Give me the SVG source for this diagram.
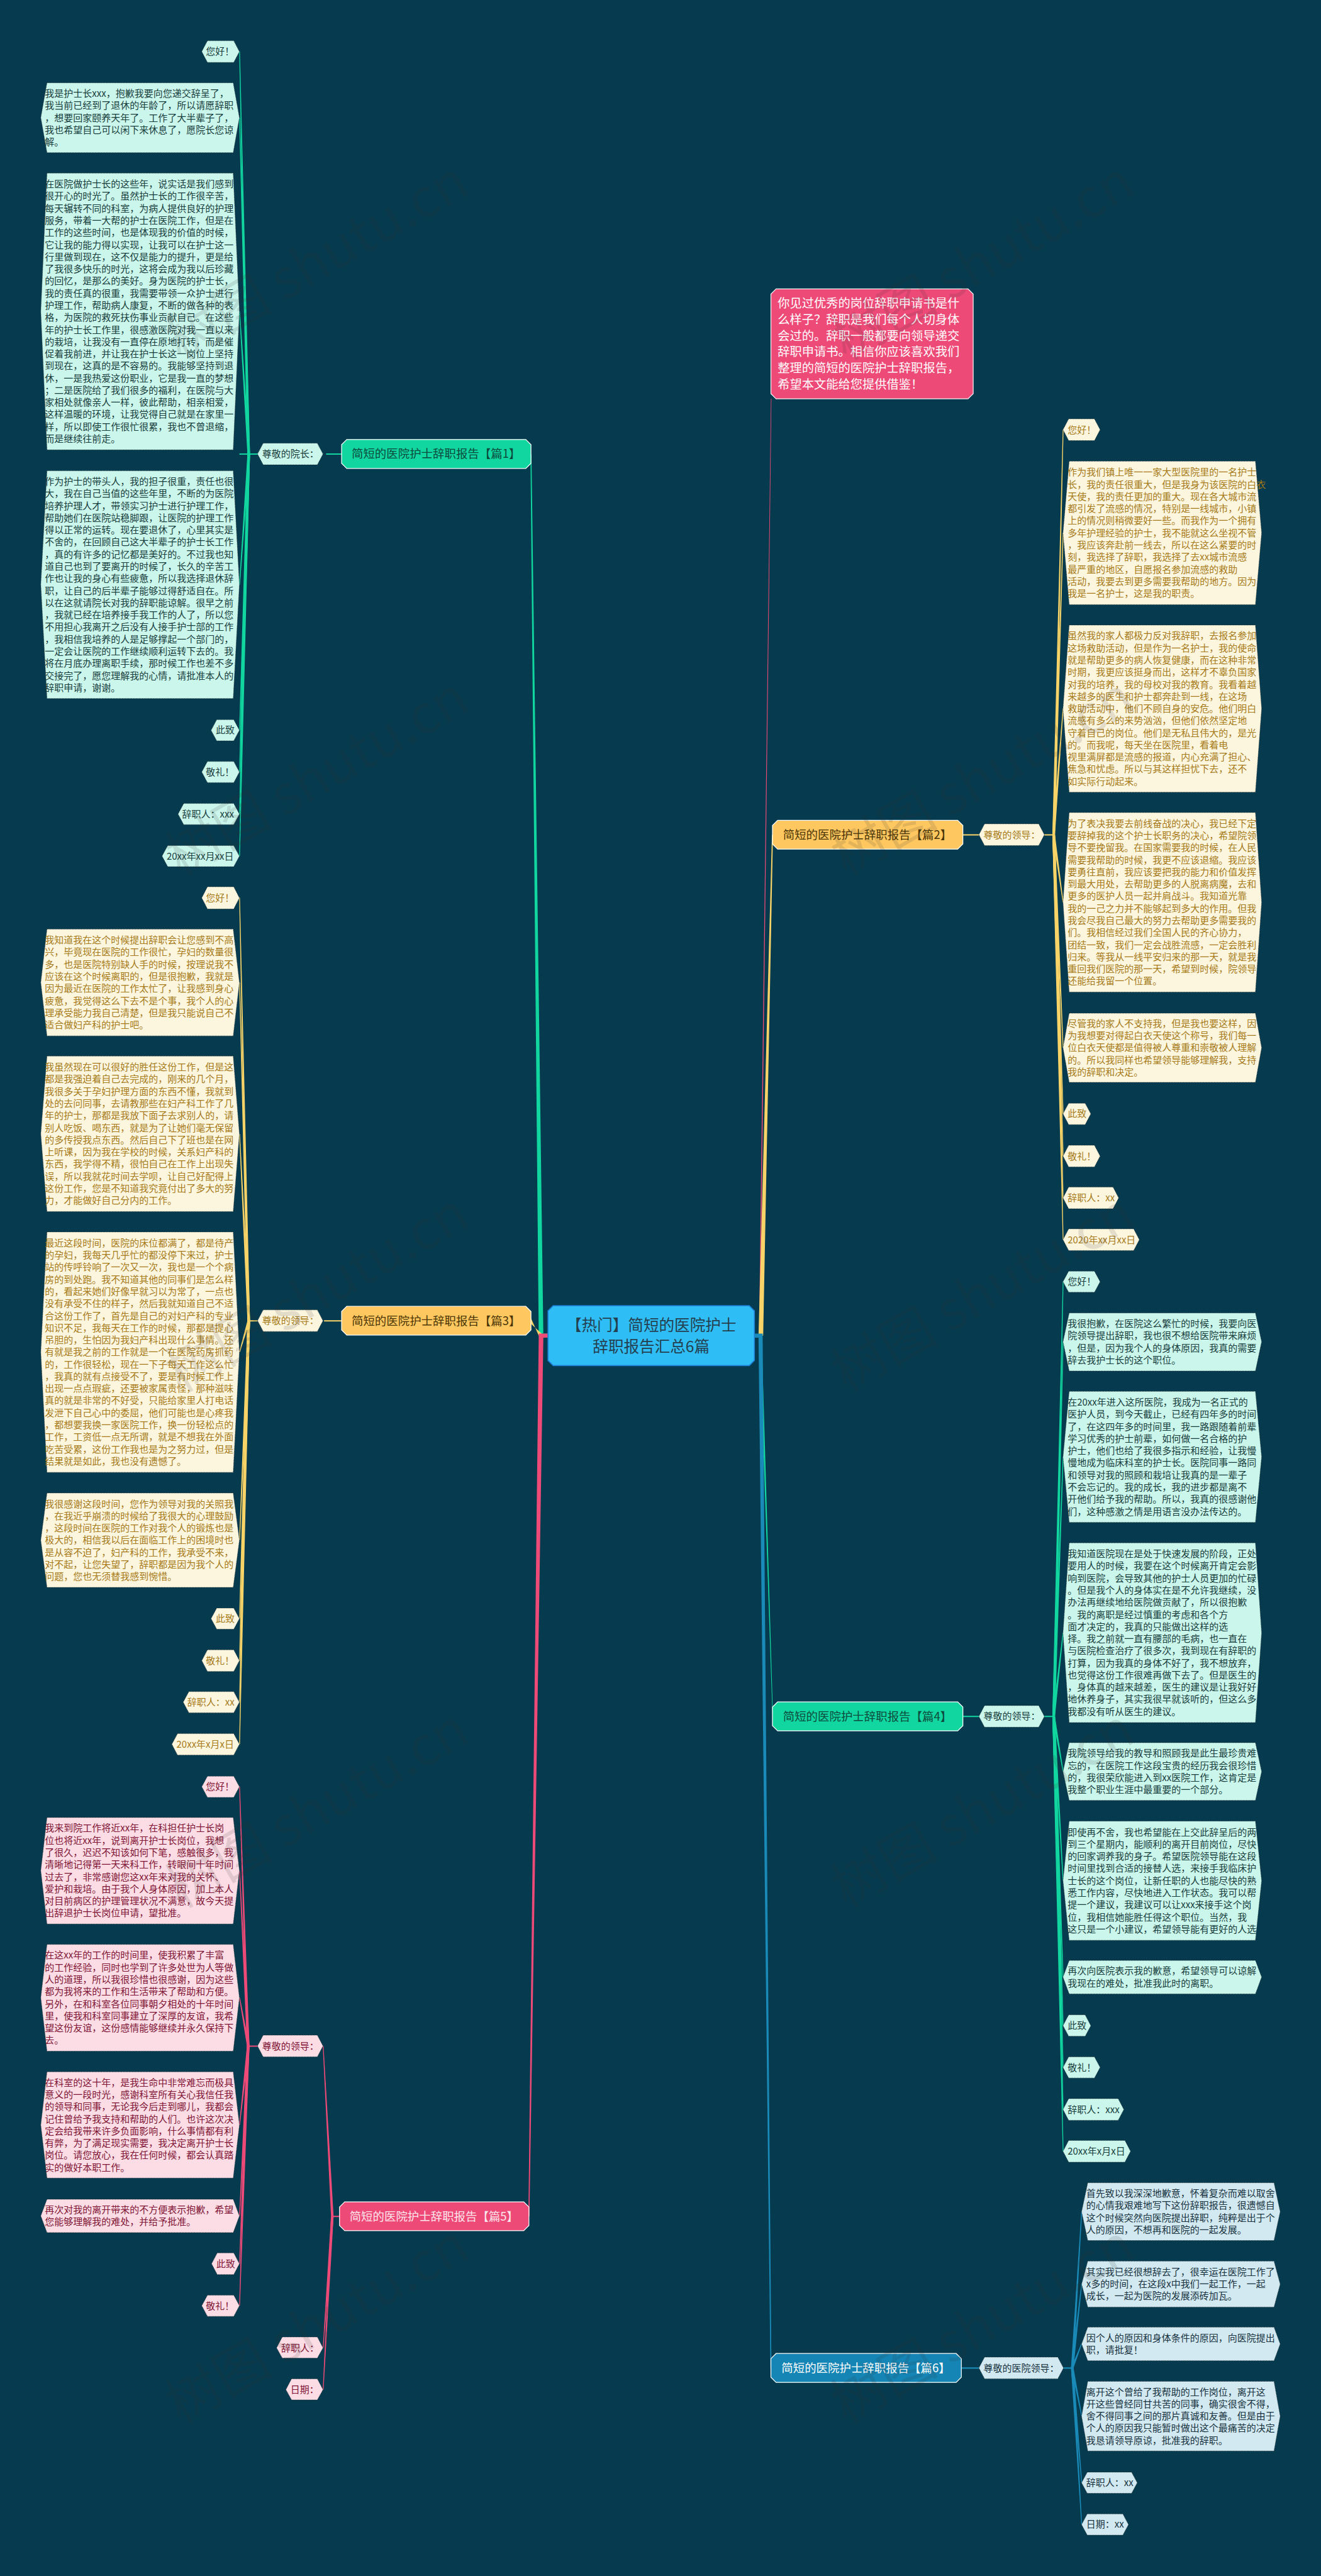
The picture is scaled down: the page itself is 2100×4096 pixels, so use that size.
<svg xmlns="http://www.w3.org/2000/svg" width="2100" height="4096" viewBox="0 0 2100 4096">
<style>
text{font-family:"Noto Sans CJK SC","Liberation Sans",sans-serif;font-size:18.3px}
.n polygon{stroke:#1c2c30;stroke-width:1;stroke-dasharray:1.5 1.5}
.g polygon{fill:#cbf6ec}.g text{fill:#173d3c}
.y polygon{fill:#fdf6df}.y text{fill:#a67a18}
.p polygon{fill:#fcdde6}.p text{fill:#7f1434}
.b polygon{fill:#d2e9f2}.b text{fill:#17323e}
.m polygon{stroke:#fff;stroke-width:1.5}
.m text{font-size:22.5px;text-anchor:middle}
.mg polygon{fill:#12d6a0}.mg text{fill:#0b4a3c}
.my polygon{fill:#ffc75f}.my text{fill:#4a3505}
.mp polygon{fill:#ee4a78}.mp text{fill:#fde6ec}
.mb polygon{fill:#1585b5}.mb text{fill:#fff}
.cg{fill:#12d6a0}.cy{fill:#f8d468}.cp{fill:#ee4a78}.cb{fill:#1a8ab8}
.wm{font-size:104px;fill:#333;opacity:.13}
</style>
<rect width="2100" height="4096" fill="#063a4e"/>
<g transform="scale(0.8203)">
<g id="connectors">
<path class="cp" d="M1471 2589L1473 2589L1495 773L1494 773Z"/>
<path class="cg" d="M1044 2585H1062V2593H1044L1053 2589L1030 881L1028 881Z"/>
<path class="cy" d="M1044 2589L1054 2589L1029 2566L1029 2555Z"/>
<path class="cp" d="M1044 2585H1062V2593H1053L1026 4296L1024 4296L1044 2593Z"/>
<path class="cg" d="M1472 2589L1476 2589L1498 3327L1497 3327Z"/>
<path class="cy" d="M1470 2589L1479 2589L1498 1618L1496 1618Z"/>
<path class="cb" d="M1462 2585H1478V2593L1495 4590L1493 4590L1470 2593H1462Z"/>
<g class="cg">
<path d="M632 879h30v2.5h-30zM464 879h36v2.5h-36z"/>
<path d="M479.500 880L484.500 880L465 100L463.500 100Z"/><path d="M479.500 880L484.500 880L465 228L463.500 228Z"/><path d="M479.500 880L484.500 880L465 604L463.500 604Z"/><path d="M479.500 880L484.500 880L465 1133L463.500 1133Z"/><path d="M479.500 880L484.500 880L465 1415L463.500 1415Z"/><path d="M479.500 880L484.500 880L465 1496L463.500 1496Z"/><path d="M479.500 880L484.500 880L465 1578L463.500 1578Z"/><path d="M479.500 880L484.500 880L465 1659L463.500 1659Z"/>
<path d="M1866 3326h31v2.500h-31zM2024 3326h18v2.500h-18z"/>
<path d="M2039.500 3327L2044.500 3327L2061 2484L2059.500 2484Z"/><path d="M2039.500 3327L2044.500 3327L2061 2601L2059.500 2601Z"/><path d="M2039.500 3327L2044.500 3327L2061 2824L2059.500 2824Z"/><path d="M2039.500 3327L2044.500 3327L2061 3165L2059.500 3165Z"/><path d="M2039.500 3327L2044.500 3327L2061 3434L2059.500 3434Z"/><path d="M2039.500 3327L2044.500 3327L2061 3645L2059.500 3645Z"/><path d="M2039.500 3327L2044.500 3327L2061 3832L2059.500 3832Z"/><path d="M2039.500 3327L2044.500 3327L2061 3926L2059.500 3926Z"/><path d="M2039.500 3327L2044.500 3327L2061 4007L2059.500 4007Z"/><path d="M2039.500 3327L2044.500 3327L2061 4089L2059.500 4089Z"/><path d="M2039.500 3327L2044.500 3327L2061 4170L2059.500 4170Z"/>
</g>
<g class="cy">
<path d="M628 2559h34v2.500h-34zM481 2559h18v2.500h-18z"/>
<path d="M479.500 2560L484.500 2560L465 1740L463.500 1740Z"/><path d="M479.500 2560L484.500 2560L465 1904L463.500 1904Z"/><path d="M479.500 2560L484.500 2560L465 2198L463.500 2198Z"/><path d="M479.500 2560L484.500 2560L465 2621L463.500 2621Z"/><path d="M479.500 2560L484.500 2560L465 2985L463.500 2985Z"/><path d="M479.500 2560L484.500 2560L465 3137L463.500 3137Z"/><path d="M479.500 2560L484.500 2560L465 3219L463.500 3219Z"/><path d="M479.500 2560L484.500 2560L465 3299L463.500 3299Z"/><path d="M479.500 2560L484.500 2560L465 3381L463.500 3381Z"/>
<path d="M1866 1617h31v2.500h-31zM2024 1617h18v2.500h-18z"/>
<path d="M2039.500 1618L2044.500 1618L2061 833L2059.500 833Z"/><path d="M2039.500 1618L2044.500 1618L2061 1033L2059.500 1033Z"/><path d="M2039.500 1618L2044.500 1618L2061 1373L2059.500 1373Z"/><path d="M2039.500 1618L2044.500 1618L2061 1749L2059.500 1749Z"/><path d="M2039.500 1618L2044.500 1618L2061 2031L2059.500 2031Z"/><path d="M2039.500 1618L2044.500 1618L2061 2159L2059.500 2159Z"/><path d="M2039.500 1618L2044.500 1618L2061 2241L2059.500 2241Z"/><path d="M2039.500 1618L2044.500 1618L2061 2322L2059.500 2322Z"/><path d="M2039.500 1618L2044.500 1618L2061 2403L2059.500 2403Z"/>
</g>
<g class="cp">
<path d="M481 3965h18v2.500h-18zM644 4295h16v2.500h-16z"/>
<path d="M478.500 3966L483.500 3966L465 3463L463.500 3463Z"/><path d="M478.500 3966L483.500 3966L465 3626L463.500 3626Z"/><path d="M478.500 3966L483.500 3966L465 3872L463.500 3872Z"/><path d="M478.500 3966L483.500 3966L465 4119L463.500 4119Z"/><path d="M478.500 3966L483.500 3966L465 4295L463.500 4295Z"/><path d="M478.500 3966L483.500 3966L465 4388L463.500 4388Z"/><path d="M478.500 3966L483.500 3966L465 4469L463.500 4469Z"/>
<path d="M641.500 4296L646.500 4296L627 3966L625.500 3966Z"/><path d="M641.500 4296L646.500 4296L627 4551L625.500 4551Z"/><path d="M641.500 4296L646.500 4296L627 4632L625.500 4632Z"/>
</g>
<g class="cb">
<path d="M1863 4589h34v2.500h-34zM2061 4589h17v2.500h-17z"/>
<path d="M2075.500 4590L2080.500 4590L2097 4287L2095.500 4287Z"/><path d="M2075.500 4590L2080.500 4590L2097 4427L2095.500 4427Z"/><path d="M2075.500 4590L2080.500 4590L2097 4543L2095.500 4543Z"/><path d="M2075.500 4590L2080.500 4590L2097 4683L2095.500 4683Z"/><path d="M2075.500 4590L2080.500 4590L2097 4812L2095.500 4812Z"/><path d="M2075.500 4590L2080.500 4590L2097 4893L2095.500 4893Z"/>
</g>
</g>

<g id="center"><polygon points="1072,2531 1452,2531 1462,2541 1462,2637 1452,2647 1072,2647 1062,2637 1062,2541" fill="#2fbdf6" stroke="#1f7fd8" stroke-width="2"/>
<text x="1262" y="2579" text-anchor="middle" style="font-size:30px" fill="#24404f">【热门】简短的医院护士</text><text x="1262" y="2621" text-anchor="middle" style="font-size:30px" fill="#24404f">辞职报告汇总6篇</text></g>

<g id="intro"><polygon points="1504,560 1876,560 1886,570 1886,763 1876,773 1504,773 1494,763 1494,570" fill="#ee4a78" stroke="#f4f4f4" stroke-width="1.500"/>
<text y="596.5" style="font-size:23.5px" fill="#fff"><tspan x="1507">你见过优秀的岗位辞职申请书是什</tspan><tspan x="1507" dy="31.3">么样子？辞职是我们每个人切身体</tspan><tspan x="1507" dy="31.3">会过的。辞职一般都要向领导递交</tspan><tspan x="1507" dy="31.3">辞职申请书。相信你应该喜欢我们</tspan><tspan x="1507" dy="31.3">整理的简短的医院护士辞职报告，</tspan><tspan x="1507" dy="31.3">希望本文能给您提供借鉴！</tspan></text></g>

<g id="main1" class="m mg"><polygon points="672,852 1019,852 1029,862 1029,898 1019,908 672,908 662,898 662,862"/><text x="845" y="888">简短的医院护士辞职报告【篇1】</text></g>
<g id="main2" class="m my"><polygon points="1507,1590 1856,1590 1866,1600 1866,1636 1856,1646 1507,1646 1497,1636 1497,1600"/><text x="1681" y="1626">简短的医院护士辞职报告【篇2】</text></g>
<g id="main3" class="m my"><polygon points="672,2532 1019,2532 1029,2542 1029,2578 1019,2588 672,2588 662,2578 662,2542"/><text x="845" y="2568">简短的医院护士辞职报告【篇3】</text></g>
<g id="main4" class="m mg"><polygon points="1507,3299 1856,3299 1866,3309 1866,3345 1856,3355 1507,3355 1497,3345 1497,3309"/><text x="1681" y="3335">简短的医院护士辞职报告【篇4】</text></g>
<g id="main5" class="m mp"><polygon points="668,4268 1015,4268 1025,4278 1025,4314 1015,4324 668,4324 658,4314 658,4278"/><text x="841" y="4304">简短的医院护士辞职报告【篇5】</text></g>
<g id="main6" class="m mb"><polygon points="1504,4562 1853,4562 1863,4572 1863,4608 1853,4618 1504,4618 1494,4608 1494,4572"/><text x="1678" y="4598">简短的医院护士辞职报告【篇6】</text></g>

<g id="label1" class="n g"><polygon points="510,859 615,859 626,880 615,901 510,901 499,880"/><text x="508" y="886.500">尊敬的院长：</text></g>
<g id="g1" class="n g"><polygon points="402,79 453,79 464,100 453,121 402,121 391,100"/><text x="399" y="106.500">您好！</text></g>
<g id="g2" class="n g"><polygon points="91,160.500 452,160.500 464,228 452,296 91,296 79,228"/><text y="187.750"><tspan x="87">我是护士长xxx，抱歉我要向您递交辞呈了，</tspan><tspan x="87" dy="23.5">我当前已经到了退休的年龄了，所以请愿辞职</tspan><tspan x="87" dy="23.5">，想要回家颐养天年了。工作了大半辈子了，</tspan><tspan x="87" dy="23.5">我也希望自己可以闲下来休息了，愿院长您谅</tspan><tspan x="87" dy="23.5">解。</tspan></text></g>
<g id="g3" class="n g"><polygon points="91,335.500 452,335.500 464,604 452,872 91,872 79,604"/><text y="363.500"><tspan x="87">在医院做护士长的这些年，说实话是我们感到</tspan><tspan x="87" dy="23.5">很开心的时光了。虽然护士长的工作很辛苦，</tspan><tspan x="87" dy="23.5">每天辗转不同的科室，为病人提供良好的护理</tspan><tspan x="87" dy="23.5">服务，带着一大帮的护士在医院工作，但是在</tspan><tspan x="87" dy="23.5">工作的这些时间，也是体现我的价值的时候，</tspan><tspan x="87" dy="23.5">它让我的能力得以实现，让我可以在护士这一</tspan><tspan x="87" dy="23.5">行里做到现在，这不仅是能力的提升，更是给</tspan><tspan x="87" dy="23.5">了我很多快乐的时光，这将会成为我以后珍藏</tspan><tspan x="87" dy="23.5">的回忆，是那么的美好。身为医院的护士长，</tspan><tspan x="87" dy="23.5">我的责任真的很重，我需要带领一众护士进行</tspan><tspan x="87" dy="23.5">护理工作，帮助病人康复，不断的做各种的表</tspan><tspan x="87" dy="23.5">格，为医院的救死扶伤事业贡献自己。在这些</tspan><tspan x="87" dy="23.5">年的护士长工作里，很感激医院对我一直以来</tspan><tspan x="87" dy="23.5">的栽培，让我没有一直停在原地打转，而是催</tspan><tspan x="87" dy="23.5">促着我前进，并让我在护士长这一岗位上坚持</tspan><tspan x="87" dy="23.5">到现在，这真的是不容易的。我能够坚持到退</tspan><tspan x="87" dy="23.5">休，一是我热爱这份职业，它是我一直的梦想</tspan><tspan x="87" dy="23.5">；二是医院给了我们很多的福利，在医院与大</tspan><tspan x="87" dy="23.5">家相处就像亲人一样，彼此帮助，相亲相爱，</tspan><tspan x="87" dy="23.5">这样温暖的环境，让我觉得自己就是在家里一</tspan><tspan x="87" dy="23.5">样，所以即使工作很忙很累，我也不曾退缩，</tspan><tspan x="87" dy="23.5">而是继续往前走。</tspan></text></g>
<g id="g4" class="n g"><polygon points="91,912.600 452,912.600 464,1133 452,1354 91,1354 79,1133"/><text y="940"><tspan x="87">作为护士的带头人，我的担子很重，责任也很</tspan><tspan x="87" dy="23.5">大，我在自己当值的这些年里，不断的为医院</tspan><tspan x="87" dy="23.5">培养护理人才，带领实习护士进行护理工作，</tspan><tspan x="87" dy="23.5">帮助她们在医院站稳脚跟，让医院的护理工作</tspan><tspan x="87" dy="23.5">得以正常的运转。现在要退休了，心里其实是</tspan><tspan x="87" dy="23.5">不舍的，在回顾自己这大半辈子的护士长工作</tspan><tspan x="87" dy="23.5">，真的有许多的记忆都是美好的。不过我也知</tspan><tspan x="87" dy="23.5">道自己也到了要离开的时候了，长久的辛苦工</tspan><tspan x="87" dy="23.5">作也让我的身心有些疲惫，所以我选择退休辞</tspan><tspan x="87" dy="23.5">职，让自己的后半辈子能够过得舒适自在。所</tspan><tspan x="87" dy="23.5">以在这就请院长对我的辞职能谅解。很早之前</tspan><tspan x="87" dy="23.5">，我就已经在培养接手我工作的人了，所以您</tspan><tspan x="87" dy="23.5">不用担心我离开之后没有人接手护士部的工作</tspan><tspan x="87" dy="23.5">，我相信我培养的人是足够撑起一个部门的，</tspan><tspan x="87" dy="23.5">一定会让医院的工作继续顺利运转下去的。我</tspan><tspan x="87" dy="23.5">将在月底办理离职手续，那时候工作也差不多</tspan><tspan x="87" dy="23.5">交接完了，愿您理解我的心情，请批准本人的</tspan><tspan x="87" dy="23.5">辞职申请，谢谢。</tspan></text></g>
<g id="g5" class="n g"><polygon points="420,1395 453,1395 464,1415.500 453,1436 420,1436 409,1415.500"/><text x="418" y="1422">此致</text></g>
<g id="g6" class="n g"><polygon points="402,1476 453,1476 464,1496.500 453,1517 402,1517 391,1496.500"/><text x="399" y="1503">敬礼！</text></g>
<g id="g7" class="n g"><polygon points="356,1557.500 453,1557.500 464,1578 453,1598.500 356,1598.500 345,1578"/><text x="353" y="1584.500">辞职人：xxx</text></g>
<g id="g8" class="n g"><polygon points="325,1639 453,1639 464,1659.500 453,1680 325,1680 314,1659.500"/><text x="323" y="1666">20xx年xx月xx日</text></g>

<g id="label3" class="n y"><polygon points="510,2539 615,2539 626,2560 615,2581 510,2581 499,2560"/><text x="508" y="2566.500">尊敬的领导：</text></g>
<g id="y1" class="n y"><polygon points="402,1719 453,1719 464,1740.500 453,1762 402,1762 391,1740.500"/><text x="399" y="1747">您好！</text></g>
<g id="y2" class="n y"><polygon points="91,1801 452,1801 464,1904.500 452,2008 91,2008 79,1904.500"/><text y="1828.750"><tspan x="87">我知道我在这个时候提出辞职会让您感到不高</tspan><tspan x="87" dy="23.5">兴，毕竟现在医院的工作很忙，孕妇的数量很</tspan><tspan x="87" dy="23.5">多，也是医院特别缺人手的时候，按理说我不</tspan><tspan x="87" dy="23.5">应该在这个时候离职的，但是很抱歉，我就是</tspan><tspan x="87" dy="23.5">因为最近在医院的工作太忙了，让我感到身心</tspan><tspan x="87" dy="23.5">疲惫，我觉得这么下去不是个事，我个人的心</tspan><tspan x="87" dy="23.5">理承受能力我自己清楚，但是我只能说自己不</tspan><tspan x="87" dy="23.5">适合做妇产科的护士吧。</tspan></text></g>
<g id="y3" class="n y"><polygon points="91,2047 452,2047 464,2198 452,2348.500 91,2348.500 79,2198"/><text y="2075"><tspan x="87">我虽然现在可以很好的胜任这份工作，但是这</tspan><tspan x="87" dy="23.5">都是我强迫着自己去完成的，刚来的几个月，</tspan><tspan x="87" dy="23.5">我很多关于孕妇护理方面的东西不懂，我就到</tspan><tspan x="87" dy="23.5">处的去问同事，去请教那些在妇产科工作了几</tspan><tspan x="87" dy="23.5">年的护士，那都是我放下面子去求别人的，请</tspan><tspan x="87" dy="23.5">别人吃饭、喝东西，就是为了让她们毫无保留</tspan><tspan x="87" dy="23.5">的多传授我点东西。然后自己下了班也是在网</tspan><tspan x="87" dy="23.5">上听课，因为我在学校的时候，关系妇产科的</tspan><tspan x="87" dy="23.5">东西，我学得不精，很怕自己在工作上出现失</tspan><tspan x="87" dy="23.5">误，所以我就花时间去学呗，让自己好配得上</tspan><tspan x="87" dy="23.5">这份工作，您是不知道我究竟付出了多大的努</tspan><tspan x="87" dy="23.5">力，才能做好自己分内的工作。</tspan></text></g>
<g id="y4" class="n y"><polygon points="91,2388 452,2388 464,2621 452,2854 91,2854 79,2621"/><text y="2416"><tspan x="87">最近这段时间，医院的床位都满了，都是待产</tspan><tspan x="87" dy="23.5">的孕妇，我每天几乎忙的都没停下来过，护士</tspan><tspan x="87" dy="23.5">站的传呼铃响了一次又一次，我也是一个个病</tspan><tspan x="87" dy="23.5">房的到处跑。我不知道其他的同事们是怎么样</tspan><tspan x="87" dy="23.5">的，看起来她们好像早就习以为常了，一点也</tspan><tspan x="87" dy="23.5">没有承受不住的样子，然后我就知道自己不适</tspan><tspan x="87" dy="23.5">合这份工作了，首先是自己的对妇产科的专业</tspan><tspan x="87" dy="23.5">知识不足，我每天在工作的时候，那都是提心</tspan><tspan x="87" dy="23.5">吊胆的，生怕因为我妇产科出现什么事情。还</tspan><tspan x="87" dy="23.5">有就是我之前的工作就是一个在医院药房抓药</tspan><tspan x="87" dy="23.5">的，工作很轻松，现在一下子每天工作这么忙</tspan><tspan x="87" dy="23.5">，我真的就有点接受不了，要是有时候工作上</tspan><tspan x="87" dy="23.5">出现一点点瑕疵，还要被家属责怪，那种滋味</tspan><tspan x="87" dy="23.5">真的就是非常的不好受，只能给家里人打电话</tspan><tspan x="87" dy="23.5">发泄下自己心中的委屈，他们可能也是心疼我</tspan><tspan x="87" dy="23.5">，都想要我换一家医院工作，换一份轻松点的</tspan><tspan x="87" dy="23.5">工作，工资低一点无所谓，就是不想我在外面</tspan><tspan x="87" dy="23.5">吃苦受累，这份工作我也是为之努力过，但是</tspan><tspan x="87" dy="23.5">结果就是如此，我也没有遗憾了。</tspan></text></g>
<g id="y5" class="n y"><polygon points="91,2894 452,2894 464,2985.500 452,3077 91,3077 79,2985.500"/><text y="2921.500"><tspan x="87">我很感谢这段时间，您作为领导对我的关照我</tspan><tspan x="87" dy="23.5">，在我近乎崩溃的时候给了我很大的心理鼓励</tspan><tspan x="87" dy="23.5">，这段时间在医院的工作对我个人的锻炼也是</tspan><tspan x="87" dy="23.5">极大的，相信我以后在面临工作上的困境时也</tspan><tspan x="87" dy="23.5">是从容不迫了，妇产科的工作，我承受不来，</tspan><tspan x="87" dy="23.5">对不起，让您失望了，辞职都是因为我个人的</tspan><tspan x="87" dy="23.5">问题，您也无须替我感到惋惜。</tspan></text></g>
<g id="y6" class="n y"><polygon points="420,3117 453,3117 464,3137.500 453,3158 420,3158 409,3137.500"/><text x="418" y="3144">此致</text></g>
<g id="y7" class="n y"><polygon points="402,3198 453,3198 464,3219 453,3240 402,3240 391,3219"/><text x="399" y="3225.500">敬礼！</text></g>
<g id="y8" class="n y"><polygon points="366,3279 453,3279 464,3299.500 453,3320 366,3320 355,3299.500"/><text x="363" y="3306">辞职人：xx</text></g>
<g id="y9" class="n y"><polygon points="344,3360.500 453,3360.500 464,3381 453,3402 344,3402 333,3381"/><text x="342" y="3387.500">20xx年x月x日</text></g>

<g id="label5" class="n p"><polygon points="510,3945 615,3945 626,3966 615,3987 510,3987 499,3966"/><text x="508" y="3972.500">尊敬的领导：</text></g>
<g id="label5b" class="n p"><polygon points="547,4530 615,4530 626,4551 615,4571 547,4571 536,4551"/><text x="545" y="4557.500">辞职人：</text></g>
<g id="label5c" class="n p"><polygon points="565,4611 615,4611 626,4632 615,4652 565,4652 554,4632"/><text x="563" y="4638.500">日期：</text></g>
<g id="p1" class="n p"><polygon points="402,3443 453,3443 464,3463.500 453,3484 402,3484 391,3463.500"/><text x="399" y="3470">您好！</text></g>
<g id="p2" class="n p"><polygon points="91,3523 452,3523 464,3626 452,3729.500 91,3729.500 79,3626"/><text y="3550.500"><tspan x="87">我来到院工作将近xx年，在科担任护士长岗</tspan><tspan x="87" dy="23.5">位也将近xx年，说到离开护士长岗位，我想</tspan><tspan x="87" dy="23.5">了很久，迟迟不知该如何下笔，感触很多，我</tspan><tspan x="87" dy="23.5">清晰地记得第一天来科工作，转眼间十年时间</tspan><tspan x="87" dy="23.5">过去了，非常感谢您这xx年来对我的关怀、</tspan><tspan x="87" dy="23.5">爱护和栽培。由于我个人身体原因，加上本人</tspan><tspan x="87" dy="23.5">对目前病区的护理管理状况不满意，故今天提</tspan><tspan x="87" dy="23.5">出辞退护士长岗位申请，望批准。</tspan></text></g>
<g id="p3" class="n p"><polygon points="91,3769 452,3769 464,3872.500 452,3976 91,3976 79,3872.500"/><text y="3796.750"><tspan x="87">在这xx年的工作的时间里，使我积累了丰富</tspan><tspan x="87" dy="23.5">的工作经验，同时也学到了许多处世为人等做</tspan><tspan x="87" dy="23.5">人的道理，所以我很珍惜也很感谢，因为这些</tspan><tspan x="87" dy="23.5">都为我将来的工作和生活带来了帮助和方便。</tspan><tspan x="87" dy="23.5">另外，在和科室各位同事朝夕相处的十年时间</tspan><tspan x="87" dy="23.5">里，使我和科室同事建立了深厚的友谊，我希</tspan><tspan x="87" dy="23.5">望这份友谊，这份感情能够继续并永久保持下</tspan><tspan x="87" dy="23.5">去。</tspan></text></g>
<g id="p4" class="n p"><polygon points="91,4016 452,4016 464,4119 452,4222 91,4222 79,4119"/><text y="4043.250"><tspan x="87">在科室的这十年，是我生命中非常难忘而极具</tspan><tspan x="87" dy="23.5">意义的一段时光，感谢科室所有关心我信任我</tspan><tspan x="87" dy="23.5">的领导和同事，无论我今后走到哪儿，我都会</tspan><tspan x="87" dy="23.5">记住曾给予我支持和帮助的人们。也许这次决</tspan><tspan x="87" dy="23.5">定会给我带来许多负面影响，什么事情都有利</tspan><tspan x="87" dy="23.5">有弊，为了满足现实需要，我决定离开护士长</tspan><tspan x="87" dy="23.5">岗位。请您放心，我在任何时候，都会认真踏</tspan><tspan x="87" dy="23.5">实的做好本职工作。</tspan></text></g>
<g id="p5" class="n p"><polygon points="91,4263 452,4263 464,4295.300 452,4327.600 91,4327.600 79,4295.300"/><text y="4290"><tspan x="87">再次对我的离开带来的不方便表示抱歉，希望</tspan><tspan x="87" dy="23.5">您能够理解我的难处，并给予批准。</tspan></text></g>
<g id="p6" class="n p"><polygon points="421,4367 453,4367 464,4388 453,4409 421,4409 410,4388"/><text x="419" y="4394.500">此致</text></g>
<g id="p7" class="n p"><polygon points="402,4449 453,4449 464,4469.500 453,4490 402,4490 391,4469.500"/><text x="399" y="4476">敬礼！</text></g>

<g id="label2" class="n y"><polygon points="1908,1597 2013,1597 2024,1618 2013,1639 1908,1639 1897,1618"/><text x="1906" y="1624.500">尊敬的领导：</text></g>
<g id="ry1" class="n y"><polygon points="2071,812 2121,812 2132,833 2121,854 2071,854 2060,833"/><text x="2069" y="839.500">您好！</text></g>
<g id="ry2" class="n y"><polygon points="2072,894 2433,894 2445,1033 2433,1172 2072,1172 2060,1033"/><text y="922"><tspan x="2069">作为我们镇上唯一一家大型医院里的一名护士</tspan><tspan x="2069" dy="23.5">长，我的责任很重大，但是我身为该医院的白衣</tspan><tspan x="2069" dy="23.5">天使，我的责任更加的重大。现在各大城市流</tspan><tspan x="2069" dy="23.5">都引发了流感的情况，特别是一线城市，小镇</tspan><tspan x="2069" dy="23.5">上的情况则稍微要好一些。而我作为一个拥有</tspan><tspan x="2069" dy="23.5">多年护理经验的护士，我不能就这么坐视不管</tspan><tspan x="2069" dy="23.5">，我应该奔赴前一线去，所以在这么紧要的时</tspan><tspan x="2069" dy="23.5">刻，我选择了辞职，我选择了去xx城市流感</tspan><tspan x="2069" dy="23.5">最严重的地区，自愿报名参加流感的救助</tspan><tspan x="2069" dy="23.5">活动，我要去到更多需要我帮助的地方。因为</tspan><tspan x="2069" dy="23.5">我是一名护士，这是我的职责。</tspan></text></g>
<g id="ry3" class="n y"><polygon points="2072,1211.600 2433,1211.600 2445,1373.600 2433,1535.600 2072,1535.600 2060,1373.600"/><text y="1239.100"><tspan x="2069">虽然我的家人都极力反对我辞职，去报名参加</tspan><tspan x="2069" dy="23.5">这场救助活动，但是作为一名护士，我的使命</tspan><tspan x="2069" dy="23.5">就是帮助更多的病人恢复健康，而在这种非常</tspan><tspan x="2069" dy="23.5">时期，我更应该挺身而出，这样才不辜负国家</tspan><tspan x="2069" dy="23.5">对我的培养，我的母校对我的教育。我看着越</tspan><tspan x="2069" dy="23.5">来越多的医生和护士都奔赴到一线，在这场</tspan><tspan x="2069" dy="23.5">救助活动中，他们不顾自身的安危。他们明白</tspan><tspan x="2069" dy="23.5">流感有多么的来势汹汹，但他们依然坚定地</tspan><tspan x="2069" dy="23.5">守着自己的岗位。他们是无私且伟大的，是光</tspan><tspan x="2069" dy="23.5">的。而我呢，每天坐在医院里，看着电</tspan><tspan x="2069" dy="23.5">视里满屏都是流感的报道，内心充满了担心、</tspan><tspan x="2069" dy="23.5">焦急和忧虑。所以与其这样担忧下去，还不</tspan><tspan x="2069" dy="23.5">如实际行动起来。</tspan></text></g>
<g id="ry4" class="n y"><polygon points="2072,1575 2433,1575 2445,1749 2433,1923 2072,1923 2060,1749"/><text y="1602.750"><tspan x="2069">为了表决我要去前线奋战的决心，我已经下定</tspan><tspan x="2069" dy="23.5">要辞掉我的这个护士长职务的决心，希望院领</tspan><tspan x="2069" dy="23.5">导不要挽留我。在国家需要我的时候，在人民</tspan><tspan x="2069" dy="23.5">需要我帮助的时候，我更不应该退缩。我应该</tspan><tspan x="2069" dy="23.5">要勇往直前，我应该要把我的能力和价值发挥</tspan><tspan x="2069" dy="23.5">到最大用处，去帮助更多的人脱离病魔，去和</tspan><tspan x="2069" dy="23.5">更多的医护人员一起并肩战斗。我知道光靠</tspan><tspan x="2069" dy="23.5">我的一己之力并不能够起到多大的作用。但我</tspan><tspan x="2069" dy="23.5">我会尽我自己最大的努力去帮助更多需要我的</tspan><tspan x="2069" dy="23.5">们。我相信经过我们全国人民的齐心协力，</tspan><tspan x="2069" dy="23.5">团结一致，我们一定会战胜流感，一定会胜利</tspan><tspan x="2069" dy="23.5">归来。等我从一线平安归来的那一天，就是我</tspan><tspan x="2069" dy="23.5">重回我们医院的那一天，希望到时候，院领导</tspan><tspan x="2069" dy="23.5">还能给我留一个位置。</tspan></text></g>
<g id="ry5" class="n y"><polygon points="2072,1964 2433,1964 2445,2031 2433,2098 2072,2098 2060,2031"/><text y="1990.500"><tspan x="2069">尽管我的家人不支持我，但是我也要这样，因</tspan><tspan x="2069" dy="23.5">为我想要对得起白衣天使这个称号，我们每一</tspan><tspan x="2069" dy="23.5">位白衣天使都是值得被人尊重和崇敬被人理解</tspan><tspan x="2069" dy="23.5">的。所以我同样也希望领导能够理解我，支持</tspan><tspan x="2069" dy="23.5">我的辞职和决定。</tspan></text></g>
<g id="ry6" class="n y"><polygon points="2071,2138.500 2103,2138.500 2114,2159 2103,2180 2071,2180 2060,2159"/><text x="2069" y="2165.500">此致</text></g>
<g id="ry7" class="n y"><polygon points="2071,2220 2121,2220 2132,2241 2121,2262 2071,2262 2060,2241"/><text x="2069" y="2247.500">敬礼！</text></g>
<g id="ry8" class="n y"><polygon points="2071,2301 2157,2301 2168,2322 2157,2343 2071,2343 2060,2322"/><text x="2069" y="2328.500">辞职人：xx</text></g>
<g id="ry9" class="n y"><polygon points="2071,2382 2197,2382 2208,2403 2197,2424 2071,2424 2060,2403"/><text x="2069" y="2409.500">2020年xx月xx日</text></g>

<g id="label4" class="n g"><polygon points="1908,3306 2013,3306 2024,3327 2013,3348 1908,3348 1897,3327"/><text x="1906" y="3333.500">尊敬的领导：</text></g>
<g id="rg1" class="n g"><polygon points="2071,2464 2121,2464 2132,2484.500 2121,2505 2071,2505 2060,2484.500"/><text x="2069" y="2491">您好！</text></g>
<g id="rg2" class="n g"><polygon points="2072,2545 2433,2545 2445,2601 2433,2657.500 2072,2657.500 2060,2601"/><text y="2572.500"><tspan x="2069">我很抱歉，在医院这么繁忙的时候，我要向医</tspan><tspan x="2069" dy="23.5">院领导提出辞职，我也很不想给医院带来麻烦</tspan><tspan x="2069" dy="23.5">，但是，因为我个人的身体原因，我真的需要</tspan><tspan x="2069" dy="23.5">辞去我护士长的这个职位。</tspan></text></g>
<g id="rg3" class="n g"><polygon points="2072,2697 2433,2697 2445,2824 2433,2951 2072,2951 2060,2824"/><text y="2724.750"><tspan x="2069">在20xx年进入这所医院，我成为一名正式的</tspan><tspan x="2069" dy="23.5">医护人员，到今天截止，已经有四年多的时间</tspan><tspan x="2069" dy="23.5">了，在这四年多的时间里，我一路跟随着前辈</tspan><tspan x="2069" dy="23.5">学习优秀的护士前辈，如何做一名合格的护</tspan><tspan x="2069" dy="23.5">护士，他们也给了我很多指示和经验，让我慢</tspan><tspan x="2069" dy="23.5">慢地成为临床科室的护士长。医院同事一路同</tspan><tspan x="2069" dy="23.5">和领导对我的照顾和栽培让我真的是一辈子</tspan><tspan x="2069" dy="23.5">不会忘记的。我的成长，我的进步都是离不</tspan><tspan x="2069" dy="23.5">开他们给予我的帮助。所以，我真的很感谢他</tspan><tspan x="2069" dy="23.5">们，这种感激之情是用语言没办法传达的。</tspan></text></g>
<g id="rg4" class="n g"><polygon points="2072,2990.600 2433,2990.600 2445,3165 2433,3339 2072,3339 2060,3165"/><text y="3018.550"><tspan x="2069">我知道医院现在是处于快速发展的阶段，正处</tspan><tspan x="2069" dy="23.5">要用人的时候，我要在这个时候离开肯定会影</tspan><tspan x="2069" dy="23.5">响到医院，会导致其他的护士人员更加的忙碌</tspan><tspan x="2069" dy="23.5">。但是我个人的身体实在是不允许我继续，没</tspan><tspan x="2069" dy="23.5">办法再继续地给医院做贡献了，所以很抱歉</tspan><tspan x="2069" dy="23.5">。我的离职是经过慎重的考虑和各个方</tspan><tspan x="2069" dy="23.5">面才决定的，我真的只能做出这样的选</tspan><tspan x="2069" dy="23.5">择。我之前就一直有腰部的毛病，也一直在</tspan><tspan x="2069" dy="23.5">与医院检查治疗了很多次，我到现在有辞职的</tspan><tspan x="2069" dy="23.5">打算，因为我真的身体不好了，我不想放弃，</tspan><tspan x="2069" dy="23.5">也觉得这份工作很难再做下去了。但是医生的</tspan><tspan x="2069" dy="23.5">，身体真的越来越差，医生的建议是让我好好</tspan><tspan x="2069" dy="23.5">地休养身子，其实我很早就该听的，但这么多</tspan><tspan x="2069" dy="23.5">我都没有听从医生的建议。</tspan></text></g>
<g id="rg5" class="n g"><polygon points="2072,3378 2433,3378 2445,3434 2433,3490 2072,3490 2060,3434"/><text y="3405.250"><tspan x="2069">我院领导给我的教导和照顾我是此生最珍贵难</tspan><tspan x="2069" dy="23.5">忘的，在医院工作这段宝贵的经历我会很珍惜</tspan><tspan x="2069" dy="23.5">的，我很荣欣能进入到xx医院工作，这肯定是</tspan><tspan x="2069" dy="23.5">我整个职业生涯中最重要的一个部分。</tspan></text></g>
<g id="rg6" class="n g"><polygon points="2072,3530 2433,3530 2445,3645.500 2433,3761 2072,3761 2060,3645.500"/><text y="3558"><tspan x="2069">即使再不舍，我也希望能在上交此辞呈后的两</tspan><tspan x="2069" dy="23.5">到三个星期内，能顺利的离开目前岗位，尽快</tspan><tspan x="2069" dy="23.5">的回家调养我的身子。希望医院领导能在这段</tspan><tspan x="2069" dy="23.5">时间里找到合适的接替人选，来接手我临床护</tspan><tspan x="2069" dy="23.5">士长的这个岗位，让新任职的人也能尽快的熟</tspan><tspan x="2069" dy="23.5">悉工作内容，尽快地进入工作状态。我可以帮</tspan><tspan x="2069" dy="23.5">提一个建议，我建议可以让xxx来接手这个岗</tspan><tspan x="2069" dy="23.5">位，我相信她能胜任得这个职位。当然，我</tspan><tspan x="2069" dy="23.5">这只是一个小建议，希望领导能有更好的人选</tspan></text></g>
<g id="rg7" class="n g"><polygon points="2072,3800 2433,3800 2445,3832.500 2433,3865 2072,3865 2060,3832.500"/><text y="3827.250"><tspan x="2069">再次向医院表示我的歉意，希望领导可以谅解</tspan><tspan x="2069" dy="23.5">我现在的难处，批准我此时的离职。</tspan></text></g>
<g id="rg8" class="n g"><polygon points="2071,3905.500 2103,3905.500 2114,3926.500 2103,3947 2071,3947 2060,3926.500"/><text x="2069" y="3933">此致</text></g>
<g id="rg9" class="n g"><polygon points="2071,3987 2121,3987 2132,4007.500 2121,4028 2071,4028 2060,4007.500"/><text x="2069" y="4014">敬礼！</text></g>
<g id="rg10" class="n g"><polygon points="2071,4068 2167,4068 2178,4089 2167,4110 2071,4110 2060,4089"/><text x="2069" y="4095.500">辞职人：xxx</text></g>
<g id="rg11" class="n g"><polygon points="2071,4149 2180,4149 2191,4170 2180,4191 2071,4191 2060,4170"/><text x="2069" y="4176.500">20xx年x月x日</text></g>

<g id="label6" class="n b"><polygon points="1908,4569 2050,4569 2061,4590 2050,4611 1908,4611 1897,4590"/><text x="1906" y="4596.500">尊敬的医院领导：</text></g>
<g id="b1" class="n b"><polygon points="2108,4231 2469,4231 2481,4287 2469,4343 2108,4343 2096,4287"/><text y="4258.250"><tspan x="2105">首先致以我深深地歉意，怀着复杂而难以取舍</tspan><tspan x="2105" dy="23.5">的心情我艰难地写下这份辞职报告，很遗憾自</tspan><tspan x="2105" dy="23.5">这个时候突然向医院提出辞职，纯粹是出于个</tspan><tspan x="2105" dy="23.5">人的原因，不想再和医院的一起发展。</tspan></text></g>
<g id="b2" class="n b"><polygon points="2108,4383 2469,4383 2481,4427.500 2469,4472 2108,4472 2096,4427.500"/><text y="4410.500"><tspan x="2105">其实我已经很想辞去了，很幸运在医院工作了</tspan><tspan x="2105" dy="23.5">x多的时间，在这段x中我们一起工作，一起</tspan><tspan x="2105" dy="23.5">成长，一起为医院的发展添砖加瓦。</tspan></text></g>
<g id="b3" class="n b"><polygon points="2108,4511 2469,4511 2481,4543.500 2469,4576 2108,4576 2096,4543.500"/><text y="4538.250"><tspan x="2105">因个人的原因和身体条件的原因，向医院提出</tspan><tspan x="2105" dy="23.5">职，请批复！</tspan></text></g>
<g id="b4" class="n b"><polygon points="2108,4616 2469,4616 2481,4683.500 2469,4751 2108,4751 2096,4683.500"/><text y="4643"><tspan x="2105">离开这个曾给了我帮助的工作岗位，离开这</tspan><tspan x="2105" dy="23.5">开这些曾经同甘共苦的同事，确实很舍不得，</tspan><tspan x="2105" dy="23.5">舍不得同事之间的那片真诚和友善。但是由于</tspan><tspan x="2105" dy="23.5">个人的原因我只能暂时做出这个最痛苦的决定</tspan><tspan x="2105" dy="23.5">我恳请领导原谅，批准我的辞职。</tspan></text></g>
<g id="b5" class="n b"><polygon points="2107,4792 2193,4792 2204,4812.500 2193,4833 2107,4833 2096,4812.500"/><text x="2105" y="4819">辞职人：xx</text></g>
<g id="b6" class="n b"><polygon points="2107,4873 2176,4873 2187,4893.500 2176,4914 2107,4914 2096,4893.500"/><text x="2105" y="4900">日期：xx</text></g>

<g id="watermark">
<text class="wm" x="350" y="700" transform="rotate(-30 350 700)">树图 shutu.cn</text>
<text class="wm" x="350" y="1700" transform="rotate(-30 350 1700)">树图 shutu.cn</text>
<text class="wm" x="350" y="2700" transform="rotate(-30 350 2700)">树图 shutu.cn</text>
<text class="wm" x="350" y="3700" transform="rotate(-30 350 3700)">树图 shutu.cn</text>
<text class="wm" x="350" y="4700" transform="rotate(-30 350 4700)">树图 shutu.cn</text>
<text class="wm" x="1640" y="700" transform="rotate(-30 1640 700)">树图 shutu.cn</text>
<text class="wm" x="1640" y="1700" transform="rotate(-30 1640 1700)">树图 shutu.cn</text>
<text class="wm" x="1640" y="2700" transform="rotate(-30 1640 2700)">树图 shutu.cn</text>
<text class="wm" x="1640" y="3700" transform="rotate(-30 1640 3700)">树图 shutu.cn</text>
<text class="wm" x="1640" y="4700" transform="rotate(-30 1640 4700)">树图 shutu.cn</text>
</g>
</g>
</svg>
